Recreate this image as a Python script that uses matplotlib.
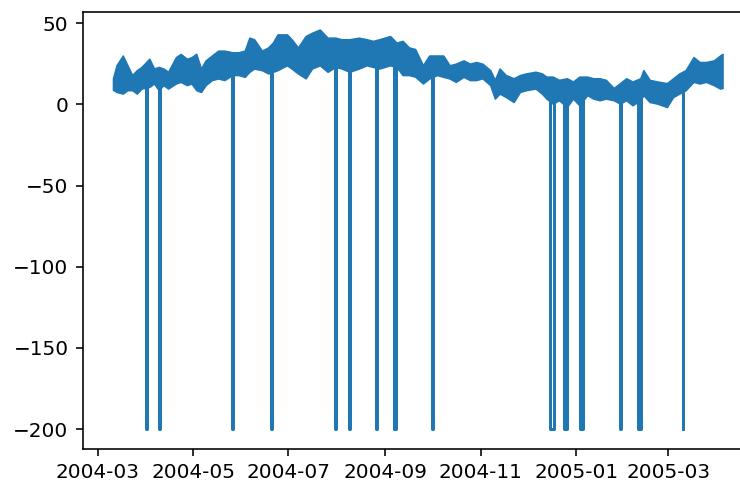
import matplotlib
matplotlib.use('Agg')
import matplotlib.pyplot as plt
import matplotlib.dates as mdates
import pandas as pd

# upper / lower edge of the hourly temperature band
band_dates = ['2004-03-10 18:00', '2004-03-13', '2004-03-17', '2004-03-20', '2004-03-23',
              '2004-03-26', '2004-03-29', '2004-04-03', '2004-04-06', '2004-04-09',
              '2004-04-12', '2004-04-15', '2004-04-20', '2004-04-23', '2004-04-27',
              '2004-04-30', '2004-05-03', '2004-05-06', '2004-05-09', '2004-05-13',
              '2004-05-17', '2004-05-21', '2004-05-26', '2004-05-30', '2004-06-03',
              '2004-06-06', '2004-06-09', '2004-06-14', '2004-06-18', '2004-06-21',
              '2004-06-24', '2004-06-30', '2004-07-03', '2004-07-07', '2004-07-12',
              '2004-07-16', '2004-07-21', '2004-07-26', '2004-07-31', '2004-08-04',
              '2004-08-09', '2004-08-15', '2004-08-20', '2004-08-24', '2004-08-28',
              '2004-09-04', '2004-09-08', '2004-09-12', '2004-09-16', '2004-09-20',
              '2004-09-25', '2004-09-29', '2004-10-04', '2004-10-08', '2004-10-12',
              '2004-10-16', '2004-10-21', '2004-10-25', '2004-10-29', '2004-11-02',
              '2004-11-07', '2004-11-10', '2004-11-13', '2004-11-17', '2004-11-22',
              '2004-11-26', '2004-11-30', '2004-12-06', '2004-12-10', '2004-12-13',
              '2004-12-17', '2004-12-21', '2004-12-26', '2004-12-30', '2005-01-03',
              '2005-01-08', '2005-01-12', '2005-01-16', '2005-01-20', '2005-01-25',
              '2005-01-29', '2005-02-02', '2005-02-06', '2005-02-11', '2005-02-13',
              '2005-02-17', '2005-02-22', '2005-02-28', '2005-03-04', '2005-03-08',
              '2005-03-12', '2005-03-17', '2005-03-21', '2005-03-25', '2005-03-30',
              '2005-04-03', '2005-04-04 14:00']
band_hi = [16, 24, 30, 24, 18, 21, 23, 28, 22, 23,
           22, 20, 29, 31, 28, 29, 31, 22, 27, 30,
           33, 33, 32, 32, 33, 41, 40, 33, 35, 38,
           43, 43, 40, 35, 42, 44, 46, 41, 41, 40,
           40, 41, 40, 39, 40, 42, 38, 39, 35, 34,
           24, 30, 30, 30, 24, 25, 27, 25, 26, 25,
           21, 15, 22, 18, 16, 18, 19, 20, 19, 17,
           17, 15, 16, 14, 17, 17, 16, 16, 15, 10,
           13, 16, 14, 16, 21, 15, 14, 13, 16, 19,
           21, 29, 26, 26, 27, 30, 31]
band_lo = [9, 7.6, 6.6, 8.7, 8.7, 6.6, 9.7, 10.7, 12.8, 8.7,
           11.8, 9.7, 12.8, 13.8, 11.8, 12.8, 8.7, 7.6, 11.8, 14.9,
           15.9, 14.9, 18, 18, 16.9, 20, 22, 21, 19, 20,
           21, 24, 22, 19, 16, 22, 24, 20, 23, 22,
           20, 22, 24, 23, 22, 24, 23, 18, 18, 17,
           12.8, 15.9, 18, 16.9, 15.9, 13.8, 16.9, 14.9, 14.9, 16,
           11.8, 3.5, 6.6, 4.5, 1.4, 7.6, 8.7, 9.7, 6.6, 3.5,
           0.4, 2.5, -1.7, 3.5, -0.6, 5.6, 3.5, 2.5, 3.5, 2.5,
           0.4, 2.5, -0.6, 2.5, 5.6, 1.4, 0.4, -1.7, 4.5, 6.6,
           8.7, 13.8, 12.8, 13.8, 11.8, 9.7, 10]

# missing readings stored as -200
gap_start = ['2004-04-01 00:00', '2004-04-09 00:00', '2004-05-26 00:00', '2004-06-19 18:00',
             '2004-07-31 00:00', '2004-08-09 00:00', '2004-08-25 18:00', '2004-09-06 18:00',
             '2004-10-01 00:00', '2004-12-15 00:00', '2004-12-24 12:00', '2005-01-03 12:00',
             '2005-01-29 00:00', '2005-02-09 06:00', '2005-03-10 00:00']
gap_end = ['2004-04-01 12:00', '2004-04-09 12:00', '2004-05-26 12:00', '2004-06-20 18:00',
           '2004-07-31 12:00', '2004-08-09 12:00', '2004-08-26 18:00', '2004-09-07 12:00',
           '2004-10-01 12:00', '2004-12-17 12:00', '2004-12-26 00:00', '2005-01-05 12:00',
           '2005-01-29 12:00', '2005-02-11 12:00', '2005-03-10 12:00']
gap_level = [15, 14, 22, 25, 30, 30, 30, 30, 20, 10, 8, 8, 5, 5, 8]
missing = -200

band_t = pd.to_datetime(band_dates, format='mixed')

fig = plt.figure(figsize=(740 / 144, 483 / 144), dpi=144)
ax = fig.add_axes([82.5 / 740, 34 / 483, 670.5 / 740, 437 / 483])

ax.fill_between(band_t, band_lo, band_hi, color='C0', linewidth=0.8, edgecolor='C0')

for s, e, lv in zip(gap_start, gap_end, gap_level):
    ts, te = pd.Timestamp(s), pd.Timestamp(e)
    ax.plot([ts, ts, te, te], [lv, missing, missing, lv], color='C0', linewidth=1.5)

ax.set_xlim(pd.Timestamp('2004-02-20 06:00'), pd.Timestamp('2005-04-24 02:00'))
ax.set_ylim(-212.2, 56.8)
ax.xaxis.set_major_locator(mdates.MonthLocator(bymonth=[1, 3, 5, 7, 9, 11]))
ax.xaxis.set_major_formatter(mdates.DateFormatter('%Y-%m'))

fig.savefig('out.png', dpi=144)
